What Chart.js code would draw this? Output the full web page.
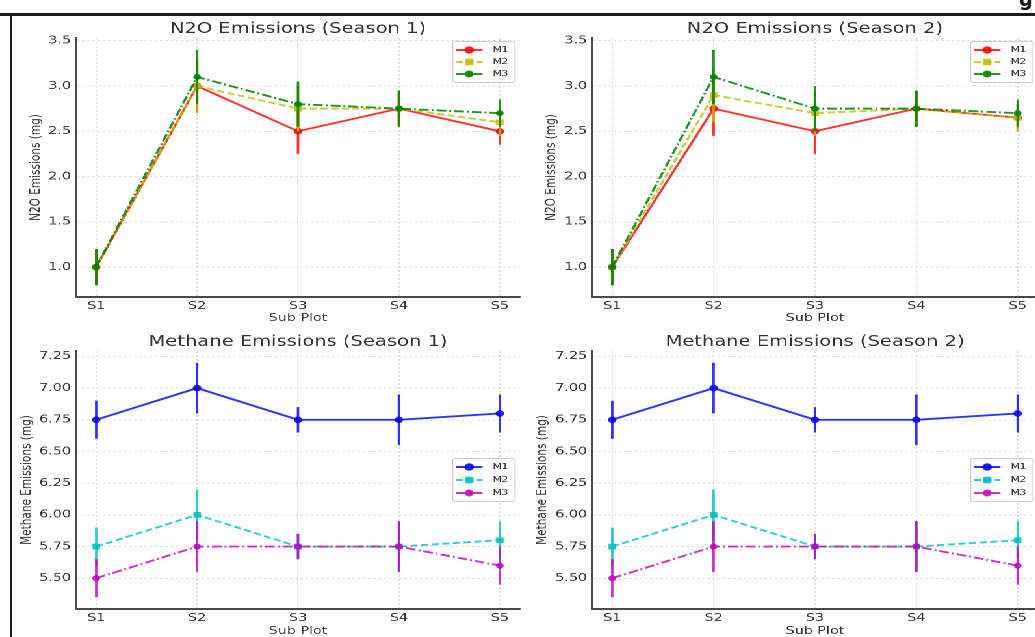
<!DOCTYPE html>
<html>
<head>
<meta charset="utf-8">
<title>N2O and Methane Emissions</title>
<script src="https://cdn.jsdelivr.net/npm/chart.js@4.4.0/dist/chart.umd.min.js"></script>
<style>
  html, body { margin: 0; padding: 0; background: #fff; }
  body { width: 1035px; height: 637px; overflow: hidden; position: relative; }
  .frame-top { position: absolute; left: 0; top: 13px; width: 1035px; height: 2.5px; background: #1c1c1c; }
  .frame-left { position: absolute; left: 9.5px; top: 13px; width: 2.3px; height: 630px; background: #1c1c1c; }
  .cut { position: absolute; left: 1019px; top: -12px; font: bold 19px "DejaVu Sans"; color: #111; }
  /* the source picture is stretched sideways, so the whole figure is too */
  #stage { position: absolute; left: 0; top: 0; width: 800px; height: 640px; transform: scaleX(1.3); transform-origin: 0 0; }
  .box { position: absolute; }
</style>
</head>
<body>
<div class="frame-top"></div>
<div class="frame-left"></div>
<span class="cut">g</span>
<div id="stage">
  <div class="box" style="left:5px;top:14px"><canvas id="n2o1" width="400" height="313"></canvas></div>
  <div class="box" style="left:405px;top:14px"><canvas id="n2o2" width="400" height="313"></canvas></div>
  <div class="box" style="left:5px;top:322px"><canvas id="ch41" width="400" height="318"></canvas></div>
  <div class="box" style="left:405px;top:322px"><canvas id="ch42" width="400" height="318"></canvas></div>
</div>
<script>
(function(){
    let subPlots = ['S1', 'S2', 'S3', 'S4', 'S5'];
    let methods = ['M1', 'M2', 'M3'];
    let n2oTicks = [1.0, 1.5, 2.0, 2.5, 3.0, 3.5];
    let ch4Ticks = [5.50, 5.75, 6.00, 6.25, 6.50, 6.75, 7.00, 7.25];

    // N2O, season 1
    let n2oS1M1 = [1.0, 3.0, 2.5, 2.75, 2.5];
    let n2oS1M2 = [1.0, 3.0, 2.75, 2.75, 2.6];
    let n2oS1M3 = [1.0, 3.1, 2.8, 2.75, 2.7];
    let n2oS1Err = [0.2, 0.3, 0.25, 0.2, 0.15];

    // N2O, season 2
    let n2oS2M1 = [1.0, 2.75, 2.5, 2.75, 2.65];
    let n2oS2M2 = [1.0, 2.9, 2.7, 2.75, 2.65];
    let n2oS2M3 = [1.0, 3.1, 2.75, 2.75, 2.7];
    let n2oS2Err = [0.2, 0.3, 0.25, 0.2, 0.15];

    // methane, season 1
    let ch4S1M1 = [6.75, 7.0, 6.75, 6.75, 6.8];
    let ch4S1M2 = [5.75, 6.0, 5.75, 5.75, 5.8];
    let ch4S1M3 = [5.5, 5.75, 5.75, 5.75, 5.6];
    let ch4S1Err = [0.15, 0.2, 0.1, 0.2, 0.15];

    // methane, season 2
    let ch4S2M1 = [6.75, 7.0, 6.75, 6.75, 6.8];
    let ch4S2M2 = [5.75, 6.0, 5.75, 5.75, 5.8];
    let ch4S2M3 = [5.5, 5.75, 5.75, 5.75, 5.6];
    let ch4S2Err = [0.15, 0.2, 0.1, 0.2, 0.15];

    let n2oColors = ['rgba(255,0,0,0.8)', 'rgba(191,191,0,0.8)', 'rgba(0,128,0,0.85)'];
    let ch4Colors = ['rgba(0,0,255,0.8)', 'rgba(0,191,191,0.8)', 'rgba(191,0,191,0.8)'];
    let lineStyles = [
        {dash: [], point: 'circle', radius: 2.8},
        {dash: [5.5, 2.7], point: 'rect', radius: 3.4},
        {dash: [7.5, 2.3, 1.5, 2.3], point: 'circle', radius: 2.5}
    ];
    let font = 'DejaVu Sans';
    let textColor = '#333';

    // vertical error bars, drawn just under each dataset's own line
    let errorBars = {
        id: 'errorBars',
        beforeDatasetDraw(chart, args) {
            let ds = chart.data.datasets[args.index];
            if(!ds.errors) return;
            let ctx = chart.ctx;
            let x = chart.scales.x, y = chart.scales.y;
            ctx.save();
            ctx.strokeStyle = ds.borderColor;
            ctx.lineWidth = 1.9;
            ds.data.forEach((p, i) => {
                let px = x.getPixelForValue(p.x);
                ctx.beginPath();
                ctx.moveTo(px, y.getPixelForValue(p.y - ds.errors[i]));
                ctx.lineTo(px, y.getPixelForValue(p.y + ds.errors[i]));
                ctx.stroke();
            });
            ctx.restore();
        }
    };

    // matplotlib-like boxed legend inside the plot
    let boxLegend = {
        id: 'boxLegend',
        afterDraw(chart, args, opts) {
            let ctx = chart.ctx, a = chart.chartArea;
            let w = 48, h = opts.rowH * 3 + opts.pad * 2;
            let left = a.right - 3.8 - w;
            let top = opts.where === 'upper right' ? a.top + 3.5 : (a.top + a.bottom) / 2 - h / 2;
            ctx.save();
            ctx.fillStyle = 'rgba(255,255,255,0.85)';
            ctx.strokeStyle = '#cccccc';
            ctx.lineWidth = 0.9;
            ctx.beginPath();
            ctx.roundRect(left, top, w, h, 2);
            ctx.fill();
            ctx.stroke();
            chart.data.datasets.forEach((ds, i) => {
                let cy = top + opts.pad + opts.rowH * (i + 0.5);
                ctx.strokeStyle = ds.borderColor;
                ctx.lineWidth = ds.borderWidth;
                ctx.setLineDash(ds.borderDash || []);
                ctx.beginPath();
                ctx.moveTo(left + 2.3, cy);
                ctx.lineTo(left + 23, cy);
                ctx.stroke();
                ctx.setLineDash([]);
                ctx.fillStyle = ds.pointBackgroundColor;
                ctx.strokeStyle = ds.pointBorderColor;
                Chart.helpers.drawPoint(ctx, {
                    pointStyle: ds.pointStyle, radius: ds.pointRadius,
                    borderWidth: 1, rotation: 0
                }, left + 12.7, cy);
                ctx.fillStyle = textColor;
                ctx.font = '8px "' + font + '"';
                ctx.textAlign = 'left';
                ctx.textBaseline = 'middle';
                ctx.fillText(ds.label, left + 30.8, cy);
            });
            ctx.restore();
        }
    };

    let makeChart = function(id, setup) {
        let datasets = setup.series.map((values, i) => ({
            label: methods[i],
            data: values.map((v, j) => ({x: j, y: v})),
            errors: setup.errors,
            borderColor: setup.colors[i],
            backgroundColor: setup.colors[i],
            pointBackgroundColor: setup.colors[i],
            pointBorderColor: setup.colors[i],
            borderWidth: 1.9,
            borderDash: lineStyles[i].dash,
            pointStyle: lineStyles[i].point,
            pointRadius: lineStyles[i].radius,
            pointBorderWidth: 1,
            tension: 0,
            order: 3 - i
        }));

        return new Chart(document.getElementById(id), {
            type: 'line',
            data: {datasets: datasets},
            plugins: [errorBars, boxLegend],
            options: {
                responsive: false,
                animation: false,
                events: [],
                devicePixelRatio: 2,
                layout: {padding: {left: 0, top: 0, right: setup.rightPad, bottom: 0}},
                plugins: {
                    legend: {display: false},
                    tooltip: {enabled: false},
                    title: {
                        display: true,
                        fullSize: false,
                        text: setup.title,
                        color: textColor,
                        font: {family: font, size: 15, weight: 'normal'},
                        padding: {top: setup.titleTop, bottom: 0}
                    },
                    boxLegend: setup.legend
                },
                scales: {
                    x: {
                        type: 'linear',
                        min: -0.2,
                        max: 4.2,
                        afterBuildTicks: s => { s.ticks = subPlots.map((_, i) => ({value: i})); },
                        afterFit: s => { s.height = setup.xHeight; },
                        ticks: {
                            callback: v => subPlots[v],
                            padding: 2.5,
                            maxRotation: 0,
                            autoSkip: false,
                            color: textColor,
                            font: {family: font, size: 11}
                        },
                        grid: {color: '#d6d6d6', lineWidth: 0.8, drawTicks: false},
                        border: {display: true, color: '#4a4a4a', width: 2, dash: [2, 2]},
                        title: {
                            display: true,
                            text: 'Sub Plot',
                            color: textColor,
                            font: {family: font, size: 11},
                            padding: {top: 0, bottom: setup.xTitleBottom}
                        }
                    },
                    y: {
                        min: setup.min,
                        max: setup.max,
                        afterBuildTicks: s => { s.ticks = setup.ticks.map(v => ({value: v})); },
                        afterFit: s => { s.width = setup.yWidth; },
                        ticks: {
                            callback: v => v.toFixed(setup.decimals),
                            padding: 3.8,
                            color: textColor,
                            font: {family: font, size: 11}
                        },
                        grid: {color: '#d6d6d6', lineWidth: 0.8, drawTicks: false},
                        border: {display: true, color: '#4a4a4a', width: 1.6, dash: [2, 2]},
                        title: {
                            display: true,
                            text: setup.yLabel,
                            color: textColor,
                            font: {family: font, size: 10.5},
                            padding: {top: setup.yTitleTop, bottom: 0}
                        }
                    }
                }
            }
        });
    };

    makeChart('n2o1', {
        title: 'N2O Emissions (Season 1)', yLabel: 'N2O Emissions (mg)',
        series: [n2oS1M1, n2oS1M2, n2oS1M3], errors: n2oS1Err, colors: n2oColors,
        ticks: n2oTicks, decimals: 1, min: 0.67, max: 3.53,
        yWidth: 53.46, rightPad: 3.46, titleTop: 6, xHeight: 30, xTitleBottom: 2.4, yTitleTop: 16.5,
        legend: {where: 'upper right', rowH: 12, pad: 2.5}
    });
    makeChart('n2o2', {
        title: 'N2O Emissions (Season 2)', yLabel: 'N2O Emissions (mg)',
        series: [n2oS2M1, n2oS2M2, n2oS2M3], errors: n2oS2Err, colors: n2oColors,
        ticks: n2oTicks, decimals: 1, min: 0.67, max: 3.53,
        yWidth: 50.38, rightPad: 6.54, titleTop: 6, xHeight: 30, xTitleBottom: 2.4, yTitleTop: 13.2,
        legend: {where: 'upper right', rowH: 12, pad: 2.5}
    });
    makeChart('ch41', {
        title: 'Methane Emissions (Season 1)', yLabel: 'Methane Emissions (mg)',
        series: [ch4S1M1, ch4S1M2, ch4S1M3], errors: ch4S1Err, colors: ch4Colors,
        ticks: ch4Ticks, decimals: 2, min: 5.2575, max: 7.2925,
        yWidth: 53.46, rightPad: 3.46, titleTop: 11, xHeight: 31, xTitleBottom: 2.1, yTitleTop: 9.6,
        legend: {where: 'center right', rowH: 13, pad: 2}
    });
    makeChart('ch42', {
        title: 'Methane Emissions (Season 2)', yLabel: 'Methane Emissions (mg)',
        series: [ch4S2M1, ch4S2M2, ch4S2M3], errors: ch4S2Err, colors: ch4Colors,
        ticks: ch4Ticks, decimals: 2, min: 5.2575, max: 7.2925,
        yWidth: 50.38, rightPad: 6.54, titleTop: 11, xHeight: 31, xTitleBottom: 2.1, yTitleTop: 5.8,
        legend: {where: 'center right', rowH: 13, pad: 2}
    });
})();
</script>
</body>
</html>
